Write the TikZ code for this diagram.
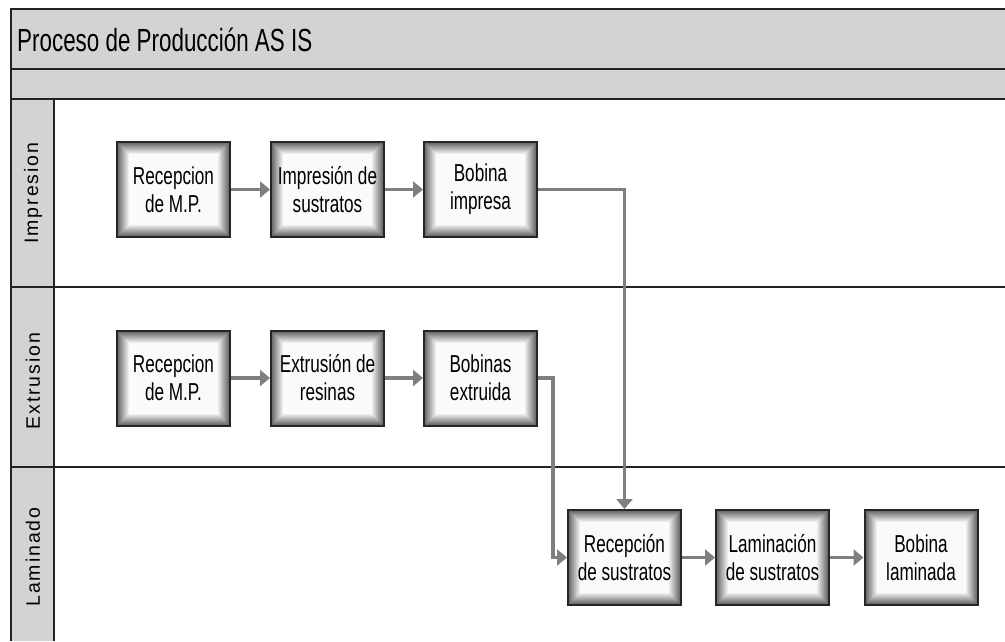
\documentclass[tikz,border=0pt]{standalone}
\usepackage{fontspec}
\setmainfont{Liberation Sans}
\newfontfamily\narrowfont[FakeStretch=0.7]{Liberation Sans}
\newfontfamily\lanefont[LetterSpace=10]{Liberation Sans}
\usetikzlibrary{arrows.meta}

\definecolor{band}{HTML}{D3D3D3}
\definecolor{flow}{HTML}{7F7F7F}
\definecolor{rule}{HTML}{222222}

\tikzset{
  frame/.style={draw=rule, line width=1.3pt},
  lanelabel/.style={rotate=90, font=\lanefont\fontsize{19.5}{22}\selectfont, text=black},
  task/.style={
    minimum width=113pt, minimum height=95pt, inner sep=0pt,
    align=center, font=\narrowfont\fontsize{24.5}{28}\selectfont,
    fill=white, draw=black!85, line width=2pt,
    path picture={
      \foreach \i in {0,...,12} {
        \pgfmathtruncatemacro\shadeval{62-5*\i}
        \fill[black!\shadeval]
          ([shift={(\i pt,\i pt)}]path picture bounding box.south west) rectangle
          ([shift={(-\i pt,-\i pt)}]path picture bounding box.north east);
      }
    }
  },
  flowline/.style={draw=flow, line width=3.2pt,
    -{Triangle[length=10pt,width=16pt]}},
}

\begin{document}
\begin{tikzpicture}[x=1pt,y=-1pt]
  \useasboundingbox (0,0) rectangle (1005,641);

  % pool header and lane label column
  \fill[band] (11,9) rectangle (1005,99);
  \fill[band] (11,99) rectangle (54,641);
  \draw[frame] (1005,9) -- (11,9) -- (11,641);
  \draw[frame] (11,69) -- (1005,69);
  \draw[frame] (11,99) -- (1005,99);
  \draw[frame] (54,99) -- (54,641);
  \draw[frame] (11,287) -- (1005,287);
  \draw[frame] (11,467) -- (1005,467);

  \node[anchor=base west, inner sep=0pt, font=\narrowfont\fontsize{32}{36}\selectfont]
    (title) at (17,51) {Proceso de Producción AS IS};

  % lane names
  \node[lanelabel] (laneimp) at (33,193) {Impresion};
  \node[lanelabel] (laneext) at (33,381) {Extrusion};
  \node[lanelabel] (lanelam) at (33,557) {Laminado};

  % Impresion lane
  \node[task] (i1) at (173.5,189.5) {Recepcion\\de M.P.};
  \node[task] (i2) at (327.5,189.5) {Impresión de\\sustratos};
  \node[task] (i3) at (480.5,189.5) {Bobina\\impresa};

  % Extrusion lane
  \node[task] (e1) at (173.5,378) {Recepcion\\de M.P.};
  \node[task] (e2) at (327.5,378) {Extrusión de\\resinas};
  \node[task] (e3) at (480.5,378) {Bobinas\\extruida};

  % Laminado lane
  \node[task] (l1) at (624.5,557.5) {Recepción\\de sustratos};
  \node[task] (l2) at (772.5,557.5) {Laminación\\de sustratos};
  \node[task] (l3) at (921,557.5) {Bobina\\laminada};

  % sequence flows
  \draw[flowline] (i1) -- (i2);
  \draw[flowline] (i2) -- (i3);
  \draw[flowline] (i3.east) -| (l1.north);
  \draw[flowline] (e1) -- (e2);
  \draw[flowline] (e2) -- (e3);
  \draw[flowline] (e3.east) -- ++(15,0) |- (l1.west);
  \draw[flowline] (l1) -- (l2);
  \draw[flowline] (l2) -- (l3);
\end{tikzpicture}
\end{document}
